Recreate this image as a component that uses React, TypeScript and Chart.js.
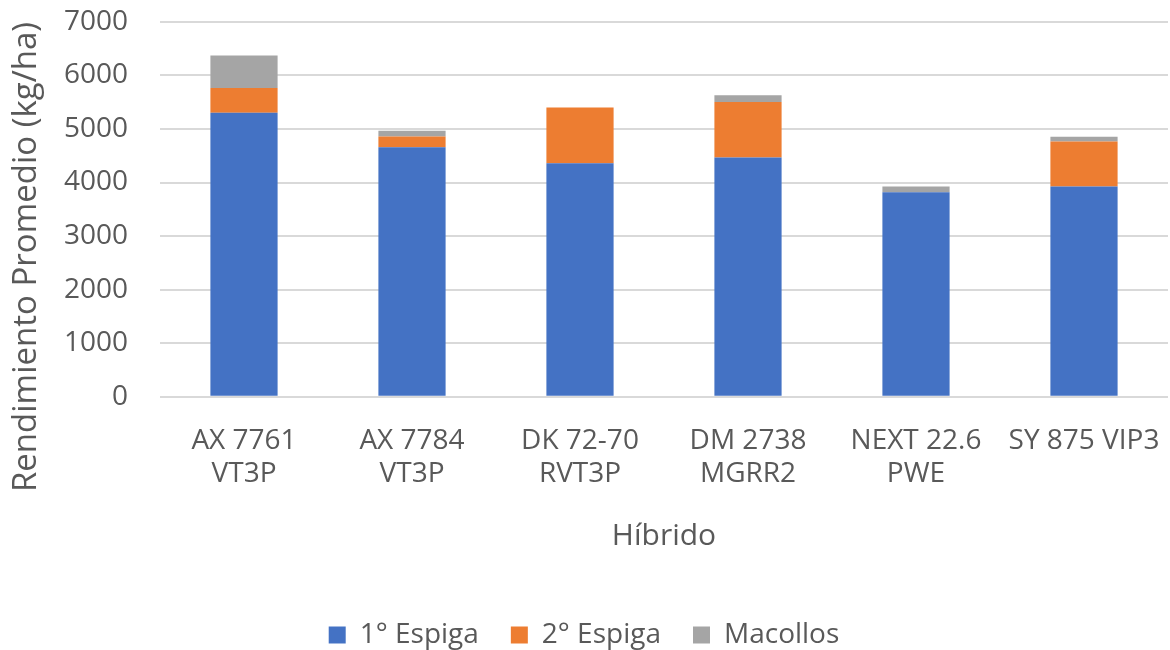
import React, { useEffect, useRef } from "react";
import { Chart, registerables } from "chart.js";

Chart.register(...registerables);

const categories: string[][] = [
  ["AX 7761", "VT3P"],
  ["AX 7784", "VT3P"],
  ["DK 72-70", "RVT3P"],
  ["DM 2738", "MGRR2"],
  ["NEXT 22.6", "PWE"],
  ["SY 875 VIP3"],
];
const espiga1 = [5300, 4660, 4360, 4465, 3820, 3925];
const espiga2 = [465, 200, 1040, 1040, 0, 840];
const macollos = [605, 105, 0, 125, 105, 90];
const yTicks = [0, 1000, 2000, 3000, 4000, 5000, 6000, 7000];
const yTitle = "Rendimiento Promedio (kg/ha)";
const xTitle = "Híbrido";

const FONT = "'Open Sans', sans-serif";
const TEXT = "#595959";

const yTitlePlugin = {
  id: "yTitleWhole",
  afterDraw(chart: any) {
    const ctx = chart.ctx;
    ctx.save();
    ctx.translate(27, 257);
    ctx.rotate(-Math.PI / 2);
    ctx.font = `33px ${FONT}`;
    ctx.fillStyle = TEXT;
    ctx.textAlign = "center";
    ctx.textBaseline = "middle";
    ctx.fillText(yTitle, 0, 0);
    ctx.restore();
  },
};

export default function App() {
  const ref = useRef<HTMLCanvasElement>(null);
  useEffect(() => {
    if (!ref.current) return;
    const chart = new Chart(ref.current, {
      type: "bar",
      data: {
        labels: categories,
        datasets: [
          { label: "1° Espiga", data: espiga1, backgroundColor: "#4472C4" },
          { label: "2° Espiga", data: espiga2, backgroundColor: "#ED7D31" },
          { label: "Macollos", data: macollos, backgroundColor: "#A5A5A5" },
        ],
      },
      plugins: [yTitlePlugin],
      options: {
        animation: false,
        responsive: false,
        maintainAspectRatio: false,
        layout: { padding: { left: 0, right: 2, top: 0, bottom: -9 } },
        datasets: { bar: { categoryPercentage: 1, barPercentage: 0.4 } },
        plugins: {
          legend: {
            position: "bottom",
            labels: {
              font: { family: FONT, size: 28 },
              color: TEXT,
              boxWidth: 17,
              boxHeight: 17,
              padding: 32,
            },
          },
          tooltip: { enabled: false },
        },
        scales: {
          x: {
            stacked: true,
            grid: { display: false, drawTicks: true, tickLength: 27 },
            border: { display: false },
            ticks: {
              font: { family: FONT, size: 28 },
              color: TEXT,
              padding: 0,
              maxRotation: 0,
              autoSkip: false,
            },
            title: {
              display: true,
              text: xTitle,
              font: { family: FONT, size: 30 },
              color: TEXT,
              padding: { top: 27, bottom: 35 },
            },
          },
          y: {
            stacked: true,
            min: 0,
            max: 7000,
            afterBuildTicks: (axis: any) => {
              axis.ticks = yTicks.map((v) => ({ value: v }));
            },
            afterFit: (axis: any) => {
              axis.width = 160;
            },
            grid: {
              color: "#D9D9D9",
              lineWidth: 2,
              drawTicks: true,
              tickLength: 27,
              tickColor: "rgba(0,0,0,0)",
            },
            border: { display: false },
            ticks: {
              font: { family: FONT, size: 28 },
              color: TEXT,
              padding: 5,
              callback: (v: any) => String(v),
            },
            title: { display: false },
          },
        },
      },
    });
    return () => chart.destroy();
  }, []);
  return (
    <div style={{ position: "absolute", left: 0, top: 0, width: 1170, height: 650, background: "#fff" }}>
      <canvas ref={ref} width={1170} height={650} />
    </div>
  );
}
